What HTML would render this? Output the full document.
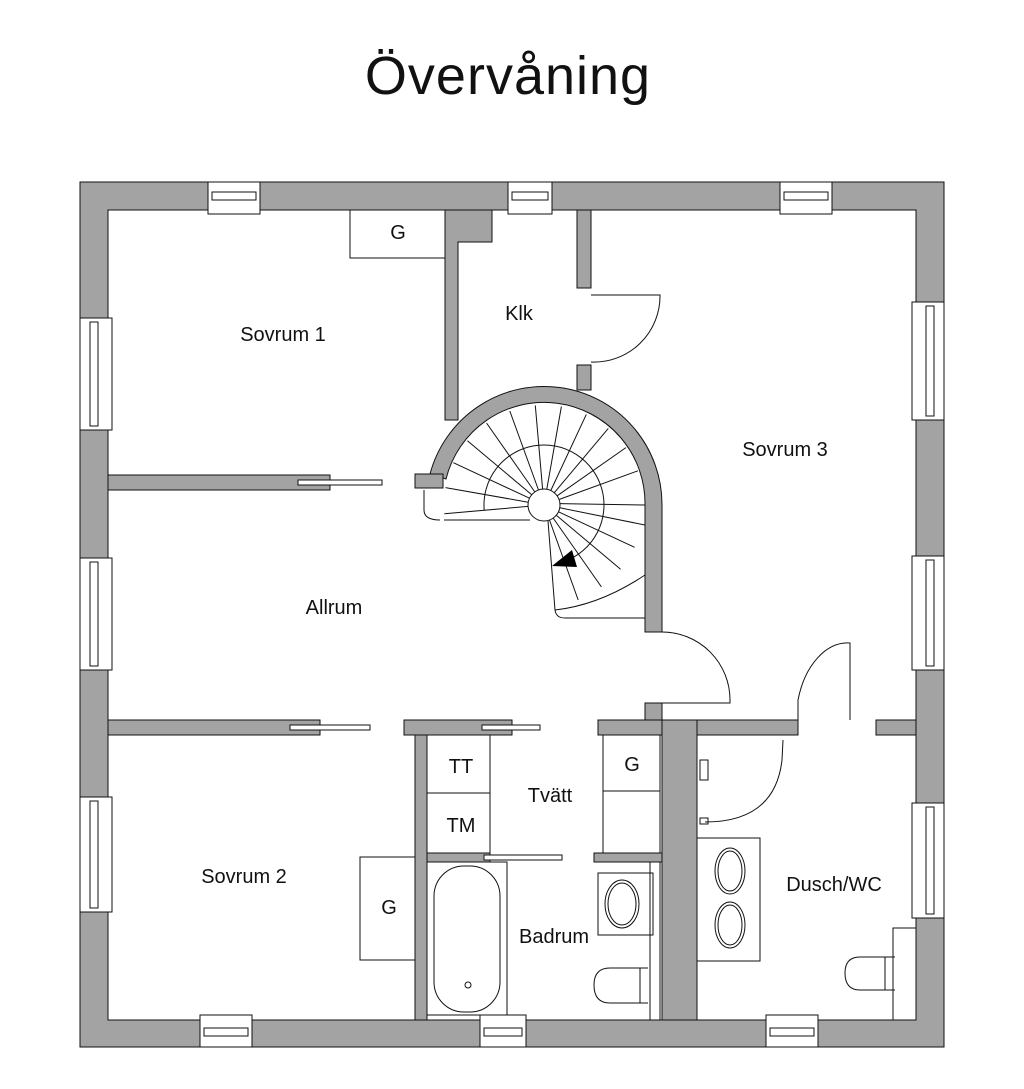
<!DOCTYPE html>
<html><head><meta charset="utf-8"><style>
html,body{margin:0;padding:0;background:#fff;}
svg{display:block;}
text{font-family:"Liberation Sans",sans-serif;fill:#111;}
</style></head><body>
<svg width="1024" height="1089" viewBox="0 0 1024 1089" xmlns="http://www.w3.org/2000/svg">
<text x="508" y="94" font-size="54" text-anchor="middle" letter-spacing="1">Övervåning</text>
<g fill="#a3a3a3" stroke="#111" stroke-width="1">
<path fill-rule="evenodd" d="M80 182 H944 V1047 H80 Z M108 210 V1020 H916 V210 Z"/>
<rect x="108" y="475" width="222" height="15"/>
<path d="M445 210 H492 V242 H458 V420 H445 Z"/>
<rect x="577" y="210" width="14" height="78"/>
<rect x="577" y="365" width="14" height="25"/>
<path d="M430 474 A118 118 0 0 1 662 505 V632 H645 V505 A101 101 0 0 0 446 479 Z"/>
<rect x="415" y="474" width="28" height="14"/>
<rect x="108" y="720" width="212" height="15"/>
<rect x="404" y="720" width="108" height="15"/>
<rect x="415" y="735" width="12" height="285"/>
<rect x="427" y="853" width="63" height="9"/>
<rect x="598" y="720" width="64" height="15"/>
<rect x="645" y="703" width="17" height="17"/>
<rect x="662" y="720" width="35" height="300"/>
<rect x="697" y="720" width="101" height="15"/>
<rect x="876" y="720" width="40" height="15"/>
<rect x="594" y="853" width="68" height="9"/>
</g>
<g fill="#fff" stroke="#111" stroke-width="1">
<rect x="208" y="182" width="52" height="32"/><rect x="212" y="192" width="44" height="8"/>
<rect x="508" y="182" width="44" height="32"/><rect x="512" y="192" width="36" height="8"/>
<rect x="780" y="182" width="52" height="32"/><rect x="784" y="192" width="44" height="8"/>
<rect x="200" y="1015" width="52" height="32"/><rect x="204" y="1028" width="44" height="8"/>
<rect x="480" y="1015" width="46" height="32"/><rect x="484" y="1028" width="38" height="8"/>
<rect x="766" y="1015" width="52" height="32"/><rect x="770" y="1028" width="44" height="8"/>
<rect x="80" y="318" width="32" height="112"/><rect x="90" y="322" width="8" height="104"/>
<rect x="80" y="558" width="32" height="112"/><rect x="90" y="562" width="8" height="104"/>
<rect x="80" y="797" width="32" height="115"/><rect x="90" y="801" width="8" height="107"/>
<rect x="912" y="302" width="32" height="118"/><rect x="926" y="306" width="8" height="110"/>
<rect x="912" y="556" width="32" height="114"/><rect x="926" y="560" width="8" height="106"/>
<rect x="912" y="803" width="32" height="115"/><rect x="926" y="807" width="8" height="107"/>
<rect x="298" y="480" width="84" height="5"/>
<rect x="290" y="725" width="80" height="5"/>
<rect x="482" y="725" width="58" height="5"/>
<rect x="484" y="855" width="78" height="5"/>
</g>
<g fill="none" stroke="#111" stroke-width="1">
<rect x="350" y="210" width="95" height="48"/>
<rect x="360" y="857" width="55" height="103"/>
<rect x="427" y="735" width="63" height="58"/>
<rect x="427" y="793" width="63" height="60"/>
<rect x="603" y="735" width="57" height="56"/>
<rect x="603" y="791" width="57" height="62"/>
<rect x="427" y="862" width="80" height="153"/>
<rect x="434" y="866" width="66" height="146" rx="30"/>
<circle cx="468" cy="985" r="3"/>
<rect x="598" y="873" width="55" height="62"/>
<ellipse cx="622" cy="904" rx="17" ry="24"/><ellipse cx="622" cy="904" rx="14" ry="21"/>
<rect x="650" y="862" width="10" height="158"/>
<path d="M648 968 H610 Q594 968 594 985 Q594 1003 610 1003 H648"/>
<line x1="640" y1="968" x2="640" y2="1003"/>
<rect x="697" y="838" width="63" height="123"/>
<ellipse cx="730" cy="871" rx="15" ry="23"/><ellipse cx="730" cy="871" rx="12" ry="20"/>
<ellipse cx="730" cy="925" rx="15" ry="23"/><ellipse cx="730" cy="925" rx="12" ry="20"/>
<rect x="893" y="928" width="23" height="92"/>
<path d="M895 957 H860 Q845 957 845 973 Q845 990 860 990 H895"/>
<line x1="885" y1="957" x2="885" y2="990"/>
<path d="M705 822 Q775 822 782 760 L783 740"/>
<rect x="700" y="760" width="8" height="20"/>
<rect x="700" y="818" width="8" height="6"/>
<path d="M591 295 H660 A66 66 0 0 1 591 362"/>
<path d="M662 632 A68 68 0 0 1 730 700 V703 H662"/>
<path d="M798 720 V700 A52 80 0 0 1 850 643 V720"/>
<line x1="528.1" y1="506.4" x2="444.4" y2="513.7"/>
<line x1="528.2" y1="502.2" x2="445.5" y2="487.6"/>
<line x1="529.5" y1="498.2" x2="453.4" y2="462.7"/>
<line x1="531.7" y1="494.7" x2="467.4" y2="440.7"/>
<line x1="534.8" y1="491.9" x2="486.6" y2="423.1"/>
<line x1="538.5" y1="490.0" x2="509.8" y2="411.0"/>
<line x1="542.6" y1="489.1" x2="535.3" y2="405.4"/>
<line x1="546.8" y1="489.2" x2="561.4" y2="406.5"/>
<line x1="550.8" y1="490.5" x2="586.3" y2="414.4"/>
<line x1="554.3" y1="492.7" x2="608.3" y2="428.4"/>
<line x1="557.1" y1="495.8" x2="625.9" y2="447.6"/>
<line x1="559.0" y1="499.5" x2="638.0" y2="470.8"/>
<line x1="559.9" y1="503.6" x2="645" y2="505"/>
<line x1="559.8" y1="507.8" x2="645" y2="525"/>
<line x1="558.5" y1="511.8" x2="634.6" y2="547.3"/>
<line x1="556.3" y1="515.3" x2="620.6" y2="569.3"/>
<line x1="553.2" y1="518.1" x2="601.4" y2="586.9"/>
<line x1="549.5" y1="520.0" x2="578.2" y2="600"/>
<path d="M484.2 510.2 A60 60 0 1 1 564.5 561.4"/>
<path d="M444 520 H530"/>
<path d="M548 521 L555 610 Q600 605 645 575"/>
<path d="M555 610 Q556 618 565 618 H645"/>
<path d="M424 490 V510 Q424 520 440 520"/>
<circle cx="544" cy="505" r="16" fill="#fff"/>
</g>
<path d="M552 566 L572 550 L577 567 Z" fill="#000"/>
<g font-size="20">
<text x="398" y="239" text-anchor="middle">G</text>
<text x="283" y="341" text-anchor="middle">Sovrum 1</text>
<text x="519" y="320" text-anchor="middle">Klk</text>
<text x="785" y="456" text-anchor="middle">Sovrum 3</text>
<text x="334" y="614" text-anchor="middle">Allrum</text>
<text x="461" y="773" text-anchor="middle">TT</text>
<text x="461" y="832" text-anchor="middle">TM</text>
<text x="550" y="802" text-anchor="middle">Tvätt</text>
<text x="632" y="771" text-anchor="middle">G</text>
<text x="244" y="883" text-anchor="middle">Sovrum 2</text>
<text x="389" y="914" text-anchor="middle">G</text>
<text x="554" y="943" text-anchor="middle">Badrum</text>
<text x="834" y="891" text-anchor="middle">Dusch/WC</text>
</g>
</svg>
</body></html>
